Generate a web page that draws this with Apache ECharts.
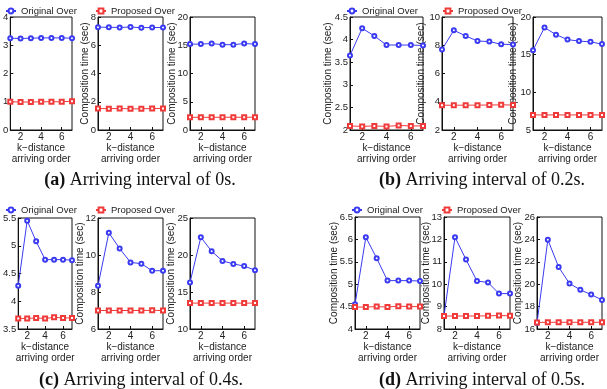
<!DOCTYPE html>
<html lang="en">
<head>
    <meta charset="UTF-8">
    <title>Composition time</title>
    <script src="https://cdn.jsdelivr.net/npm/echarts@6.0.0/dist/echarts.min.js"></script>
</head>
<body style="margin:0;background:#fff">
<div id="chart" style="width:607px;height:389px"></div>
<script>
// x values (k-distance arriving order)
const orders = ['1', '2', '3', '4', '5', '6', '7']

// (a) arriving interval 0s
const a1Orig = [3.25, 3.24, 3.25, 3.26, 3.26, 3.26, 3.25]
const a1Prop = [1.00, 0.99, 0.99, 1.00, 1.00, 1.00, 1.02]
const a2Orig = [7.28, 7.27, 7.26, 7.29, 7.24, 7.26, 7.25]
const a2Prop = [1.52, 1.51, 1.52, 1.50, 1.50, 1.52, 1.53]
const a3Orig = [15.2, 15.2, 15.3, 15.1, 15.1, 15.3, 15.2]
const a3Prop = [2.25, 2.25, 2.24, 2.26, 2.26, 2.25, 2.27]
// (b) 0.2s
const b1Orig = [3.65, 4.25, 4.08, 3.88, 3.88, 3.88, 3.87]
const b1Prop = [2.09, 2.08, 2.09, 2.08, 2.10, 2.09, 2.09]
const b2Orig = [7.7, 9.06, 8.66, 8.3, 8.26, 8.07, 8.05]
const b2Prop = [3.76, 3.75, 3.76, 3.76, 3.77, 3.78, 3.77]
const b3Orig = [15.6, 18.6, 17.66, 17.0, 16.8, 16.7, 16.4]
const b3Prop = [7.0, 7.0, 7.0, 7.0, 7.0, 7.0, 7.0]
// (c) 0.4s
const c1Orig = [4.28, 5.45, 5.08, 4.75, 4.75, 4.75, 4.74]
const c1Prop = [3.69, 3.69, 3.70, 3.69, 3.71, 3.70, 3.70]
const c2Orig = [8.34, 11.2, 10.35, 9.6, 9.53, 9.15, 9.15]
const c2Prop = [7.0, 7.0, 7.0, 7.0, 7.0, 7.01, 7.0]
const c3Orig = [16.3, 22.4, 20.5, 19.2, 18.8, 18.5, 17.95]
const c3Prop = [13.5, 13.5, 13.5, 13.5, 13.5, 13.5, 13.5]
// (d) 0.5s
const d1Orig = [4.55, 6.05, 5.58, 5.08, 5.08, 5.08, 5.07]
const d1Prop = [4.49, 4.49, 4.50, 4.49, 4.51, 4.50, 4.50]
const d2Orig = [8.59, 12.1, 11.1, 10.14, 10.08, 9.58, 9.58]
const d2Prop = [8.58, 8.58, 8.58, 8.58, 8.59, 8.60, 8.59]
const d3Orig = [16.53, 23.97, 21.53, 20.06, 19.5, 19.07, 18.6]
const d3Prop = [16.59, 16.6, 16.6, 16.6, 16.6, 16.6, 16.6]

// y axis ranges [min, max, interval]
const yRanges = [
    [0, 4, 1], [0, 8, 2], [0, 20, 5],
    [2, 4.5, 0.5], [2, 10, 2], [5, 20, 5],
    [3.5, 5.5, 0.5], [6, 12, 2], [10, 25, 5],
    [4, 6.5, 0.5], [8, 13, 1], [16, 26, 2]
]
const origSeries = [a1Orig, a2Orig, a3Orig, b1Orig, b2Orig, b3Orig, c1Orig, c2Orig, c3Orig, d1Orig, d2Orig, d3Orig]
const propSeries = [a1Prop, a2Prop, a3Prop, b1Prop, b2Prop, b3Prop, c1Prop, c2Prop, c3Prop, d1Prop, d2Prop, d3Prop]
const captions = ['(a)', 'Arriving interval of 0s.', '(b)', 'Arriving interval of 0.2s.',
    '(c)', 'Arriving interval of 0.4s.', '(d)', 'Arriving interval of 0.5s.']

// plot boxes [left, top, width, height] and gap of the y name
const boxes = [
    [8, 17, 64, 113], [98, 17, 65, 113], [190, 17, 65, 113],
    [350, 17, 73, 113], [442, 17, 71, 113], [533, 17, 69, 113],
    [8, 218, 64, 111], [98, 218, 65, 111], [190, 218, 65, 111],
    [355, 217, 65, 112], [444, 217, 66, 112], [537, 217, 65, 112]
]
const nameGaps = [8, 8, 13, 17, 16, 15, 17, 13, 14, 16, 13, 14]

const font = 'Liberation Sans, Arial, sans-serif'
const blue = '#3a3af2'
const red = '#f03a3a'
const evenOnly = (i) => i % 2 === 1

const grid = [], xAxis = [], yAxis = [], series = []
boxes.forEach((b, i) => {
    grid.push({ left: b[0], top: b[1], width: b[2], height: b[3], show: true, borderColor: '#111', borderWidth: 1, backgroundColor: 'transparent' })
    xAxis.push({
        type: 'category', gridIndex: i, data: orders, boundaryGap: false,
        name: 'k\u2212distance\narriving order', nameLocation: 'middle', nameGap: 8,
        nameTextStyle: { fontFamily: font, fontSize: 10, color: '#222', lineHeight: 11 },
        axisLine: { lineStyle: { color: '#111' } },
        axisTick: { inside: true, length: 3, interval: evenOnly, lineStyle: { color: '#111' } },
        axisLabel: { interval: evenOnly, margin: 2, fontFamily: font, fontSize: 10, color: '#222' }
    })
    const r = yRanges[i]
    yAxis.push({
        type: 'value', gridIndex: i, min: r[0], max: r[1], interval: r[2],
        // the first panels of (a) and (c) have their y name cut off by the page edge
        name: b[0] > 20 ? 'Composition time (sec)' : '', nameLocation: 'middle', nameGap: nameGaps[i],
        nameMoveOverlap: false,
        nameTextStyle: { fontFamily: font, fontSize: 10, color: '#222' },
        axisLine: { show: true, lineStyle: { color: '#111' } },
        axisTick: { show: true, inside: true, length: 3, lineStyle: { color: '#111' } },
        splitLine: { show: false },
        axisLabel: { margin: 2, fontFamily: font, fontSize: 9.5, color: '#222' }
    })
    series.push({
        name: 'Original Over', type: 'line', xAxisIndex: i, yAxisIndex: i, data: origSeries[i],
        symbol: 'emptyCircle', symbolSize: 4, color: blue, lineStyle: { width: 1 }
    })
    series.push({
        name: 'Proposed Over', type: 'line', xAxisIndex: i, yAxisIndex: i, data: propSeries[i],
        symbol: 'emptyRect', symbolSize: 4, color: red, lineStyle: { width: 1 }
    })
})

// one pair of legends per sub-figure
const legendPos = [[5, 6, 95, 6], [346, 6, 442, 6], [5, 205, 95, 205], [351, 205, 441, 205]]
const legend = []
legendPos.forEach(p => {
    const common = { itemWidth: 10, itemHeight: 6, itemGap: 2, padding: 0, textStyle: { fontFamily: font, fontSize: 9.5, color: '#222' } }
    legend.push(Object.assign({ data: ['Original Over'], left: p[0], top: p[1] }, common))
    legend.push(Object.assign({ data: ['Proposed Over'], left: p[2], top: p[3] }, common))
})

const serif = 'Liberation Serif, DejaVu Serif, serif'
const capPos = [[135, 166], [477, 166], [136, 366], [477, 366]]
const title = capPos.map((p, k) => ({
    text: '{b|' + captions[2 * k] + '} ' + captions[2 * k + 1],
    left: p[0], top: p[1], textAlign: 'center',
    textStyle: {
        fontFamily: serif, fontSize: 18, fontWeight: 'normal', color: '#111',
        rich: { b: { fontFamily: serif, fontSize: 18, fontWeight: 'bold', color: '#111' } }
    }
}))

const myChart = echarts.init(document.getElementById('chart'))
myChart.setOption({ animation: false, title, legend, grid, xAxis, yAxis, series })
</script>
</body>
</html>
